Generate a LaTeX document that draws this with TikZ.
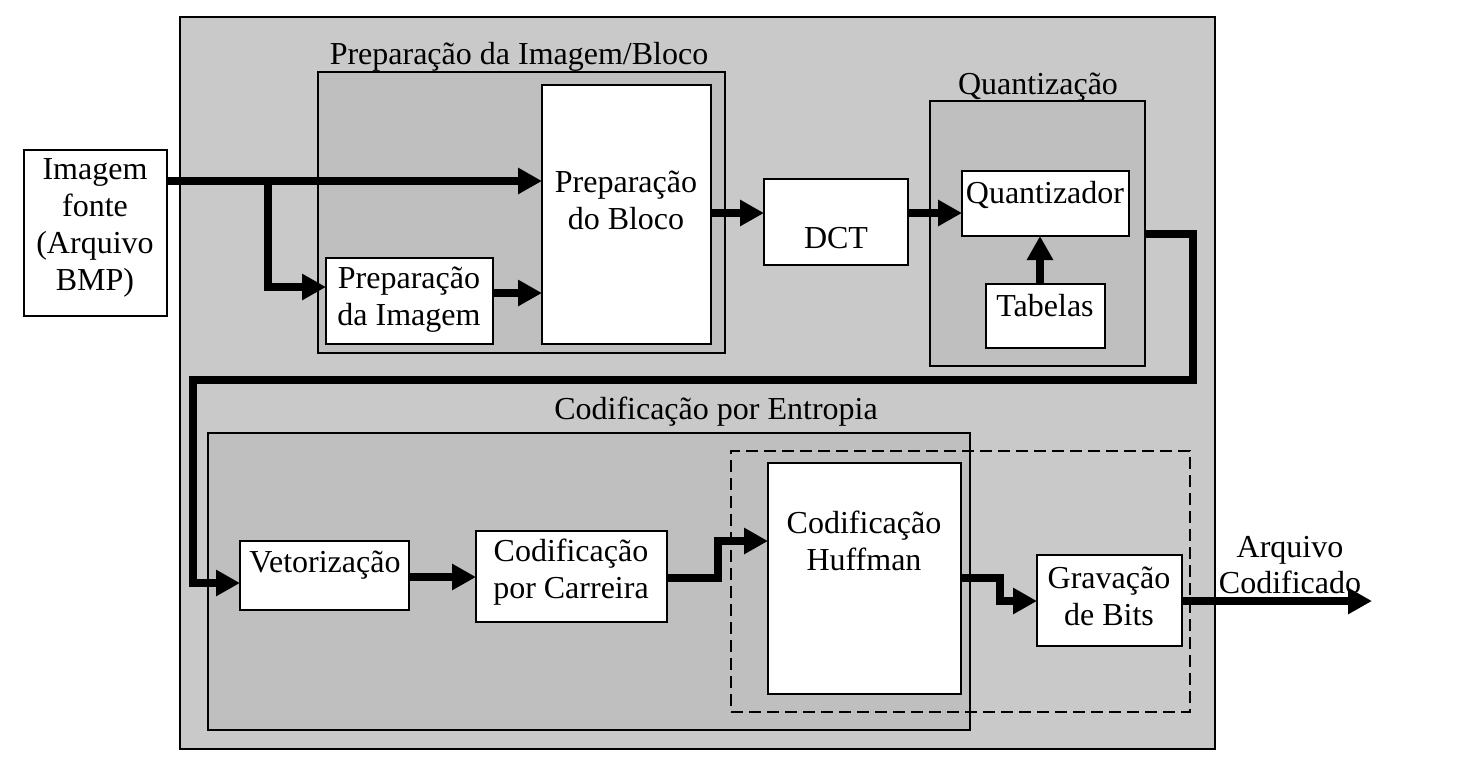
\documentclass[tikz,border=0pt]{standalone}
\usepackage{fontspec}
\setmainfont{Liberation Serif}
\usetikzlibrary{arrows.meta,fit,calc}
\definecolor{outergray}{RGB}{201,201,201}
\definecolor{grpgray}{RGB}{191,191,191}
\begin{document}
\begin{tikzpicture}[x=0.5pt,y=-0.5pt,
  box/.style={draw,fill=white,line width=1pt,inner sep=0pt,outer sep=0pt},
  grp/.style={draw,fill=grpgray,line width=1pt,inner sep=0pt,outer sep=0pt},
  outerbox/.style={draw,fill=outergray,line width=1pt,inner sep=0pt,outer sep=0pt},
  dashbox/.style={draw,line width=0.9pt,dash pattern=on 6pt off 3pt,inner sep=0pt,outer sep=0pt},
  lbl/.style={align=center,inner sep=0pt,font=\fontsize{16}{18.4}\selectfont},
  flow/.style={line width=3.8pt,-{Triangle[length=12pt,width=12.5pt]}},
]
\useasboundingbox (0,0) rectangle (1458,768);

% containers
\node[outerbox,fit={(180,17)(1215,749)}] (outer) {};
\node[grp,fit={(318,72)(725,353)}] (pgrp) {};
\node[grp,fit={(930,101)(1145,366)}] (qgrp) {};
\node[grp,fit={(208,433)(970,730)}] (egrp) {};
\node[dashbox,fit={(731,451)(1190,712)}] (dbox) {};

% boxes
\node[box,fit={(24,150)(167,316)}] (img) {};
\node[box,fit={(542,85)(711,344)}] (pblk) {};
\node[box,fit={(326,258)(493,344)}] (pimg) {};
\node[box,fit={(764,179)(908,265)}] (dct) {};
\node[box,fit={(962,171)(1129,236)}] (quant) {};
\node[box,fit={(986,284)(1105,348)}] (tab) {};
\node[box,fit={(240,541)(409,610)}] (vet) {};
\node[box,fit={(476,531)(667,622)}] (carr) {};
\node[box,fit={(768,463)(961,694)}] (huff) {};
\node[box,fit={(1037,555)(1182,646)}] (grav) {};

% texts
\node[lbl] (timg) at (95,228) {Imagem\\fonte\\(Arquivo\\BMP)};
\node[lbl] (tpgrp) at (519,57) {Preparação da Imagem/Bloco};
\node[lbl] (tpblk) at (626,200) {Preparação\\do Bloco};
\node[lbl] (tpimg) at (409,300) {Preparação\\da Imagem};
\node[lbl] (tdct) at (836,238) {DCT};
\node[lbl] (tqgrp) at (1038,87) {Quantização};
\node[lbl] (tquant) at (1045,195) {Quantizador};
\node[lbl] (ttab) at (1045,306) {Tabelas};
\node[lbl] (tegrp) at (716,412) {Codificação por Entropia};
\node[lbl] (tvet) at (325,565) {Vetorização};
\node[lbl] (tcarr) at (571,572) {Codificação\\por Carreira};
\node[lbl] (thuff) at (864,541) {Codificação\\Huffman};
\node[lbl] (tgrav) at (1109,596) {Gravação\\de Bits};
\node[lbl] (tout) at (1290,565) {Arquivo\\Codificado};

% y levels and bends
\coordinate (y181) at (0,181);
\coordinate (y287) at (0,287);
\coordinate (y293) at (0,293);
\coordinate (y213) at (0,213);
\coordinate (y234) at (0,234);
\coordinate (y583) at (0,583);
\coordinate (y577) at (0,577);
\coordinate (y578) at (0,578);
\coordinate (y541) at (0,541);
\coordinate (y601) at (0,601);
\coordinate (x1040) at (1040,0);
\coordinate (br) at (268,181);
\coordinate (q1) at (1193,234);
\coordinate (q2) at (1193,380);
\coordinate (q3) at (193,380);
\coordinate (q4) at (193,583);
\coordinate (h1) at (718,578);
\coordinate (h2) at (718,541);
\coordinate (g1) at (1000,578);
\coordinate (g2) at (1000,601);
\coordinate (outend) at (1372,601);

% connectors
\draw[flow] (img.east |- y181) -- (pblk.west |- y181);
\draw[flow] (br) |- (pimg.west |- y287);
\draw[flow] (pimg.east |- y293) -- (pblk.west |- y293);
\draw[flow] (pblk.east |- y213) -- (dct.west |- y213);
\draw[flow] (dct.east |- y213) -- (quant.west |- y213);
\draw[flow] (tab.north -| x1040) -- (quant.south -| x1040);
\draw[flow] (qgrp.east |- y234) -- (q1) -- (q2) -- (q3) -- (q4) -- (vet.west |- y583);
\draw[flow] (vet.east |- y577) -- (carr.west |- y577);
\draw[flow] (carr.east |- y578) -- (h1) -- (h2) -- (huff.west |- y541);
\draw[flow] (huff.east |- y578) -- (g1) -- (g2) -- (grav.west |- y601);
\draw[flow] (grav.east |- y601) -- (outend);
\end{tikzpicture}
\end{document}
